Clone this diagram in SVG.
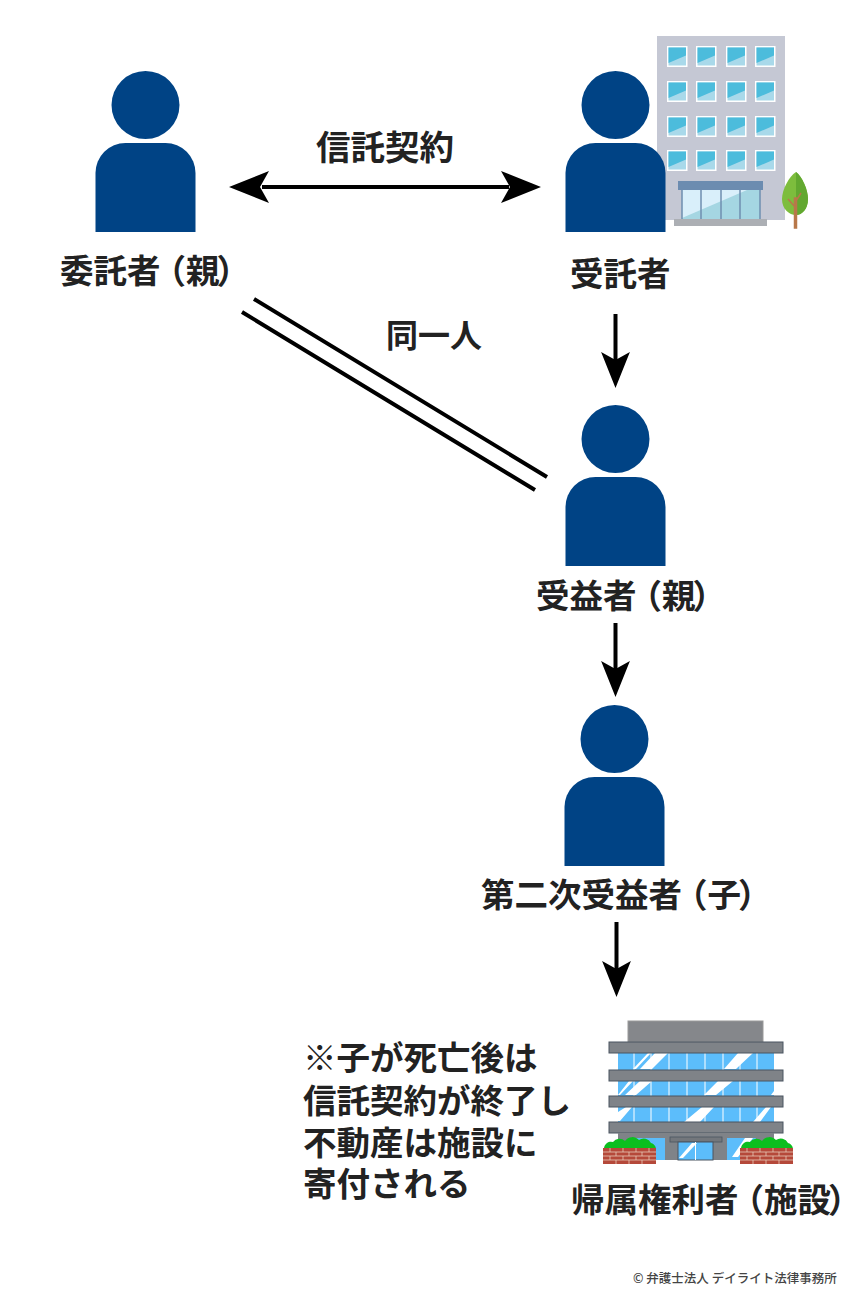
<svg xmlns="http://www.w3.org/2000/svg" width="850" height="1300" viewBox="0 0 850 1300">
<style>
text{font-family:"Noto Sans CJK JP","Noto Sans",sans-serif;font-weight:700;fill:#222;font-size:33.500px}
.p{fill:#004385}
.ln{stroke:#000;fill:none}
.band{fill:#7f8388;stroke:#4a5560;stroke-width:1}
.wf{fill:#fff}
.w1{fill:#4cbcdc}
.w2{fill:#a9d9ea}
.g{fill:#5cbdfb}
.s{fill:#fff}
.br{fill:#b5493a}
.bu{fill:#0bbf1f}
</style>
<defs>
<g id="person"><circle cx="0" cy="0" r="34" class="p"/><path class="p" d="M-50 127V68a30 30 0 0 1 30-30H20a30 30 0 0 1 30 30V127Z"/></g>
<path id="ah" d="M0 0L-40-16L-31 0L-40 16Z" fill="#000"/>
<g id="win"><rect width="20.500" height="21" class="wf"/><rect x="1.500" y="1.500" width="17.500" height="18" class="w2"/><path class="w1" d="M1.500 1.500H19V9.500L1.500 17Z"/></g>
<g id="bush"><path class="bu" d="M1 12a7 7 0 0 1 9-7a8 8 0 0 1 12-1a9 9 0 0 1 14-1a8 8 0 0 1 12 3a7 7 0 0 1 5 6Z"/></g>
<g id="brick"><rect width="53" height="16" class="br"/><path d="M0 4H53M0 8H53M0 12H53M7 0V4M20 0V4M33 0V4M46 0V4M13 4V8M26 4V8M39 4V8M7 8V12M20 8V12M33 8V12M46 8V12M13 12V16M26 12V16M39 12V16" stroke="#e8c9b8" stroke-width="0.800" fill="none"/></g>
</defs>
<rect width="850" height="1300" fill="#fff"/>

<g id="building-trustee">
<rect x="657" y="36" width="128" height="184" fill="#c5c8d4"/>
<use href="#win" x="667" y="46"/><use href="#win" x="696" y="46"/><use href="#win" x="726" y="46"/><use href="#win" x="755" y="46"/>
<use href="#win" x="667" y="81"/><use href="#win" x="696" y="81"/><use href="#win" x="726" y="81"/><use href="#win" x="755" y="81"/>
<use href="#win" x="667" y="116"/><use href="#win" x="696" y="116"/><use href="#win" x="726" y="116"/><use href="#win" x="755" y="116"/>
<use href="#win" x="667" y="150"/><use href="#win" x="696" y="150"/><use href="#win" x="726" y="150"/><use href="#win" x="755" y="150"/>
<rect x="682" y="190" width="78" height="30" fill="#a5d6e2"/>
<path d="M682 190H747L682 218Z" fill="#d9effa"/>
<path d="M682 190V220M701 190V220M721 190V220M740 190V220M760 190V220" stroke="#6f8fb0" stroke-width="1.500"/>
<rect x="678" y="181" width="85" height="9" fill="#6c8cb0"/>
<rect x="674" y="219" width="93" height="7" fill="#acafb4"/>
<path d="M796 172C802 176 808 190 808 199C808 209 802 215 796 215C789 215 782 209 782 199C782 190 789 176 796 172Z" fill="#7dbd3d"/>
<path d="M796 172C802 176 808 190 808 199C808 209 802 215 796 215Z" fill="#62a830"/>
<path d="M794.500 228V198h2V228ZM795 207L788 199M796 201L801 193" stroke="#b8784a" stroke-width="1.500" fill="#b8784a"/>
</g>

<g id="building-facility">
<rect x="628" y="1021" width="135" height="21" fill="#85878b" stroke="#999" stroke-width="1"/>
<rect x="618" y="1053" width="156" height="69" class="g"/>
<path class="s" d="M633 1069L648 1053H651L636 1069ZM640 1069L655 1053H668L652 1069ZM724 1069L738 1053H753L736 1069ZM618 1095L629 1081H633L620 1095ZM625 1095L640 1081H652L636 1095ZM704 1095L718 1081H733L716 1095ZM771 1095L774 1091V1095ZM618 1121V1112L626 1107H632L620 1121ZM684 1122L702 1107H714L700 1122ZM753 1122L766 1107H771L760 1122Z"/>
<path d="M634 1053V1122M651 1053V1122M669 1053V1122M687 1053V1122M705 1053V1122M723 1053V1122M740 1053V1122M757 1053V1122" stroke="#fff" stroke-width="1"/>
<rect x="609" y="1042" width="174" height="11" class="band"/>
<rect x="609" y="1070" width="174" height="11" class="band"/>
<rect x="609" y="1096" width="174" height="11" class="band"/>
<rect x="609" y="1122" width="174" height="11" class="band"/>
<rect x="618" y="1133" width="156" height="27" fill="#7f8388"/>
<rect x="636" y="1138" width="29" height="22" class="g"/>
<rect x="727" y="1138" width="29" height="22" class="g"/>
<path class="s" d="M732 1157L745 1138H753L738 1157Z"/>
<rect x="670" y="1137" width="52" height="5" fill="#73777c" stroke="#4a5560" stroke-width="0.800"/>
<rect x="678" y="1142" width="35" height="18" class="g" stroke="#4a5560" stroke-width="1"/>
<path class="s" d="M679 1158L692 1143H697L683 1158Z"/>
<path d="M695.500 1142V1160" stroke="#fff" stroke-width="1"/>
<use href="#bush" x="603" y="1137"/><use href="#bush" x="740" y="1137"/>
<use href="#brick" x="603" y="1148"/><use href="#brick" x="740" y="1148"/>
</g>

<g id="node-settlor"><use href="#person" x="145.500" y="105"/><text x="60" y="283">委託者<tspan dx="-8">（</tspan>親<tspan dx="-3">）</tspan></text></g>
<g id="node-trustee"><use href="#person" x="615.500" y="105"/><text x="570" y="286">受託者</text></g>
<g id="node-beneficiary"><use href="#person" x="615.500" y="439"/><text x="536" y="608">受益者<tspan dx="-8">（</tspan>親<tspan dx="-3">）</tspan></text></g>
<g id="node-second"><use href="#person" x="614.500" y="739"/><text x="481" y="907">第二次受益者<tspan dx="-8">（</tspan>子<tspan dx="-3">）</tspan></text></g>
<g id="node-facility"><text x="571" y="1212">帰属権利者<tspan dx="-8">（</tspan>施設<tspan dx="-3">）</tspan></text></g>

<g id="connectors">
<path class="ln" stroke-width="4" d="M262 187H509"/>
<use href="#ah" transform="translate(541 187)"/>
<use href="#ah" transform="translate(229 187) rotate(180)"/>
<path class="ln" stroke-width="4" d="M254 299L547 477M242 312L535 490"/>
<path class="ln" stroke-width="4" d="M615.500 314V360"/>
<use href="#ah" transform="translate(615.500 388) rotate(90) scale(0.900 0.900)"/>
<path class="ln" stroke-width="4" d="M615.500 623V670"/>
<use href="#ah" transform="translate(615.500 697) rotate(90) scale(0.900 0.900)"/>
<path class="ln" stroke-width="4" d="M616.500 922V970"/>
<use href="#ah" transform="translate(616.500 997) rotate(90) scale(0.900 0.900)"/>
</g>

<g id="labels">
<text x="316" y="160" style="font-size:34.500px">信託契約</text>
<text x="386" y="347" style="font-size:32px">同一人</text>
<text x="303" y="1070">※子が死亡後は</text>
<text x="303" y="1113">信託契約が終了し</text>
<text x="303" y="1155">不動産は施設に</text>
<text x="303" y="1196">寄付される</text>
<text x="633" y="1283" style="font-size:12.500px;font-weight:500;fill:#444">© 弁護士法人 デイライト法律事務所</text>
</g>
</svg>
